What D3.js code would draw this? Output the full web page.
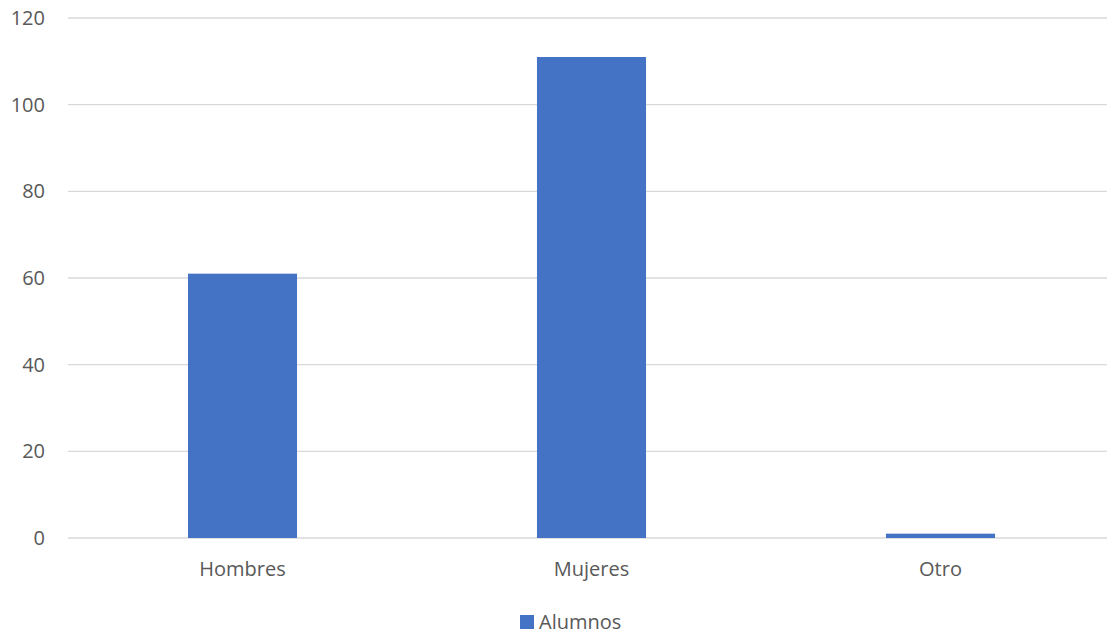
<!DOCTYPE html>
<html>
<head>
<meta charset="utf-8">
<script src="https://cdn.jsdelivr.net/npm/d3@7"></script>
<style>
  body { margin: 0; background: #fff; }
  text { font-family: 'Open Sans', sans-serif; fill: #595959; }
</style>
</head>
<body>
<div id="vis"></div>
<script>
'use strict'

const categories = ['Hombres', 'Mujeres', 'Otro']
const alumnos = [61, 111, 1]
const yTicks = [0, 20, 40, 60, 80, 100, 120]
const seriesName = 'Alumnos'

const totalWidth = 1107
const totalHeight = 634
const margin = { top: 18, left: 68, right: 0, bottom: 96 }
const plotRight = 1115
const height = totalHeight - margin.top - margin.bottom

const x = d3.scaleBand()
  .domain(categories)
  .range([margin.left, plotRight])
  .paddingInner(0.6875)
  .paddingOuter(0.34375)

const y = d3.scaleLinear()
  .domain([0, 120])
  .range([margin.top + height, margin.top])

const svg = d3.select('div#vis')
  .append('svg')
    .attr('width', totalWidth)
    .attr('height', totalHeight)

// gridlines
svg.append('g')
  .selectAll('line')
  .data(yTicks)
  .join('line')
    .attr('x1', margin.left)
    .attr('x2', totalWidth)
    .attr('y1', d => y(d))
    .attr('y2', d => y(d))
    .attr('stroke', '#d9d9d9')
    .attr('stroke-width', 1.3)

// y axis labels
const yAxis = d3.axisLeft(y).tickValues(yTicks).tickSize(0).tickPadding(0)
svg.append('g')
  .attr('transform', 'translate(45,0)')
  .call(yAxis)
  .call(g => g.select('.domain').remove())
  .call(g => g.selectAll('text').style('font-size', '20px').style('font-family', "'Open Sans', sans-serif").attr('fill', '#595959'))

// bars
svg.append('g')
  .selectAll('rect')
  .data(alumnos)
  .join('rect')
    .attr('x', (d, i) => x(categories[i]))
    .attr('width', x.bandwidth())
    .attr('y', d => y(d))
    .attr('height', d => y(0) - y(d))
    .attr('fill', '#4472c4')

// x axis labels
const xAxis = d3.axisBottom(x).tickSize(0).tickPadding(0)
svg.append('g')
  .attr('transform', 'translate(0,576)')
  .call(xAxis)
  .call(g => g.select('.domain').remove())
  .call(g => g.selectAll('text').attr('dy', 0).style('font-size', '20px').style('font-family', "'Open Sans', sans-serif").attr('fill', '#595959'))

// legend
const legend = svg.append('g').attr('transform', 'translate(520,615)')
legend.append('rect')
  .attr('width', 14)
  .attr('height', 14)
  .attr('fill', '#4472c4')
legend.append('text')
  .attr('x', 19)
  .attr('y', 14)
  .style('font-size', '20px')
  .text(seriesName)
</script>
</body>
</html>
